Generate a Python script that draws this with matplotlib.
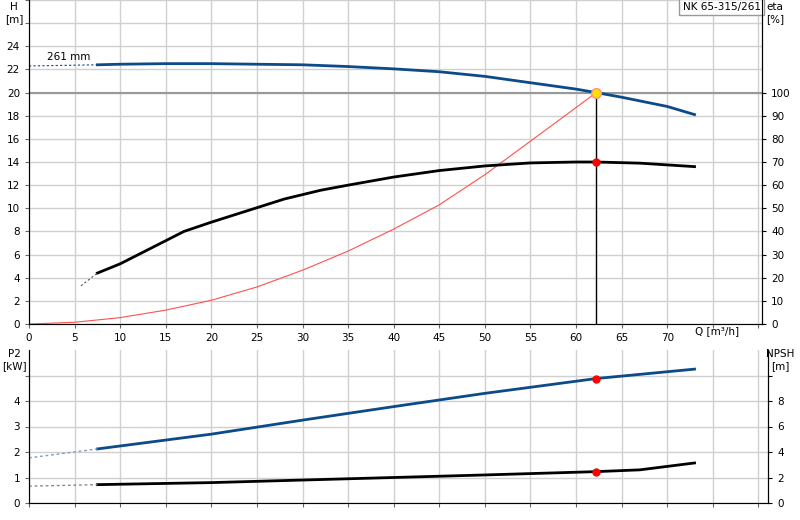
import matplotlib
matplotlib.use("Agg")
import matplotlib.pyplot as plt

q_h = [7.5, 10, 15, 20, 25, 30, 35, 40, 45, 50, 55, 60, 62.2, 65, 70, 73]
h_m = [22.4, 22.45, 22.5, 22.5, 22.45, 22.4, 22.25, 22.05, 21.8, 21.4, 20.85, 20.3, 20.0, 19.6, 18.8, 18.1]
q_h_ext = [0, 7.5]; h_ext = [22.3, 22.4]
q_eta = [7.5, 10, 12, 17, 20, 24, 28, 32, 35, 40, 45, 50, 55, 60, 62.2, 67, 73]
eta = [22, 26, 30, 40, 44, 49, 54, 57.8, 60, 63.5, 66.3, 68.3, 69.6, 70, 70, 69.5, 68]
q_eta_ext = [5.7, 7.5]; eta_ext = [16.5, 22]
q_sys = [0, 5, 10, 15, 20, 25, 30, 35, 40, 45, 50, 55, 60, 62.2]
h_sys = [0, 0.15, 0.55, 1.2, 2.05, 3.2, 4.65, 6.3, 8.2, 10.3, 12.9, 15.8, 18.7, 20.0]
q_p2 = [7.5, 20, 30, 40, 50, 62.2, 73]
p2 = [2.12, 2.7, 3.25, 3.78, 4.3, 4.88, 5.25]
q_p2_ext = [0, 7.5]; p2_ext = [1.77, 2.12]
q_npsh = [7.5, 20, 30, 40, 50, 62.2, 67, 73]
npsh = [1.44, 1.6, 1.8, 2.0, 2.2, 2.46, 2.6, 3.14]
q_npsh_ext = [0, 7.5]; npsh_ext = [1.32, 1.44]
duty_q, duty_h, duty_eta, duty_p2, duty_npsh = 62.2, 20.0, 70, 4.88, 2.46

BLUE = "#0d4a8a"
GRID = "#d0d0d0"
FS = 7.5
fig = plt.figure(figsize=(8, 5.2), dpi=100)
ax = fig.add_axes([29/800, 1-324/520, 733/800, 324/520])
axb = fig.add_axes([29/800, 1-503/520, 739/800, 153/520])
XMAX = 80.4

for a, xm in ((ax, XMAX), (axb, XMAX*739/733)):
    a.set_xlim(0, xm)
    a.set_xticks(range(0, 81, 5))
    a.grid(True, color=GRID, lw=1)
    a.set_axisbelow(True)
    a.spines["top"].set_visible(False)
    a.spines["left"].set_color("#444"); a.spines["bottom"].set_color("#888")
    a.tick_params(labelsize=FS, length=3, color="#666")

ax.set_ylim(0, 28)
ax.set_yticks(range(0, 29, 2))
ax.set_yticklabels([str(v) if v <= 24 else "" for v in range(0, 29, 2)])
ax.set_xticklabels([str(v) if v <= 70 else "" for v in range(0, 81, 5)])
ax.axhline(20, color="#999", lw=1.5, zorder=1)
ax.plot(q_h, h_m, color=BLUE, lw=2)
ax.plot(q_h_ext, h_ext, color=BLUE, lw=0.8, ls=(0, (2, 2)))
ax.text(2, 22.6, "261 mm", fontsize=FS, va="bottom")
ax2 = ax.twinx()
ax2.set_ylim(0, 140)
ax2.set_yticks(range(0, 101, 10))
ax2.tick_params(labelsize=FS, length=3)
ax2.spines["top"].set_visible(False)
ax2.plot(q_eta, eta, color="black", lw=2)
ax2.plot(q_eta_ext, eta_ext, color="#555", lw=0.8, ls=(0, (2, 2)))
ax.plot(q_sys, h_sys, color="#ff5050", lw=0.8)
ax.plot([duty_q, duty_q], [0, duty_h], color="black", lw=1)
ax.plot(duty_q, duty_h, "o", ms=7, mfc="#ffe000", mec="#ff9090", zorder=5)
ax2.plot(duty_q, duty_eta, "o", ms=5, color="red", zorder=5)
fig.text(14/800, 1-2/520, "H\n[m]", ha="center", va="top", fontsize=FS)
fig.text(775/800, 1-2/520, "eta\n[%]", ha="center", va="top", fontsize=FS)
ax.text(75.5, -0.2, "Q [m³/h]", fontsize=FS, va="top", ha="center")
ax.text(0.998, 0.993, "NK 65-315/261", transform=ax.transAxes, ha="right", va="top", fontsize=FS,
        bbox=dict(boxstyle="square,pad=0.3", fc="white", ec="#999"))

axb.set_ylim(0, 6)
axb.set_yticks(range(0, 6))
axb.set_yticklabels(["0", "1", "2", "3", "4", ""])
axb.set_xticklabels([])
axb.plot(q_p2, p2, color=BLUE, lw=2)
axb.plot(q_p2_ext, p2_ext, color="#7a9cc0", lw=1, ls=(0, (2, 2)))
axb.plot(duty_q, duty_p2, "o", ms=5, color="red", zorder=5)
axb2 = axb.twinx()
axb2.set_ylim(0, 12)
axb2.set_yticks(range(0, 11, 2))
axb2.set_yticklabels(["0", "2", "4", "6", "8", ""])
axb2.tick_params(labelsize=FS, length=3)
axb2.spines["top"].set_visible(False)
axb2.plot(q_npsh, npsh, color="black", lw=2)
axb2.plot(q_npsh_ext, npsh_ext, color="#888", lw=1, ls=(0, (2, 2)))
axb2.plot(duty_q, duty_npsh, "o", ms=5, color="red", zorder=5)
fig.text(14/800, 1-349/520, "P2\n[kW]", ha="center", va="top", fontsize=FS)
fig.text(780/800, 1-349/520, "NPSH\n[m]", ha="center", va="top", fontsize=FS)

fig.savefig("out.png", dpi=100)
